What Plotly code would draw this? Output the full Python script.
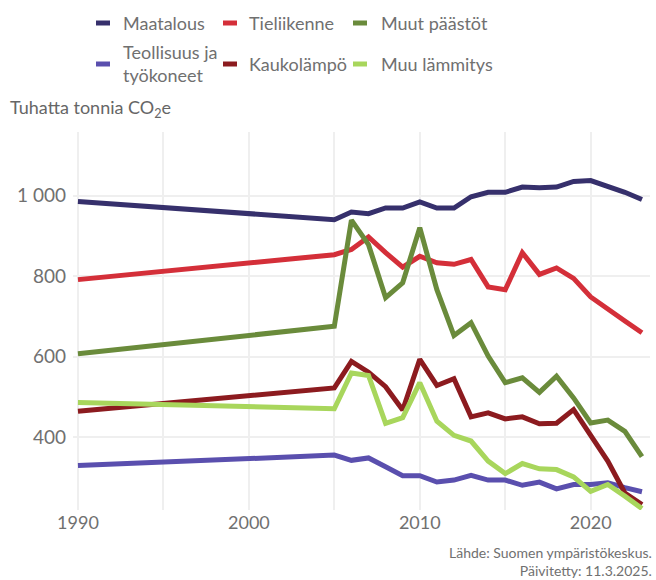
import plotly.graph_objects as go

# Päästöt sektoreittain, tuhatta tonnia CO2e
years = [1990, 2005] + list(range(2006, 2024))

maatalous = [985, 940, 959, 955, 969, 969, 984, 969, 969, 997, 1008, 1008, 1021, 1019, 1021, 1035, 1037, 1023, 1008, 990]
tieliikenne = [791, 853, 866, 897, 858, 822, 849, 833, 829, 841, 773, 766, 858, 804, 820, 794, 748, 717, 688, 659]
muut_paastot = [607, 675, 939, 878, 746, 783, 920, 766, 652, 684, 601, 535, 547, 511, 551, 497, 435, 442, 414, 351]
teollisuus = [329, 355, 342, 348, 326, 304, 304, 288, 293, 305, 293, 293, 280, 288, 271, 282, 282, 286, 274, 264]
kaukolampo = [464, 522, 588, 561, 525, 467, 593, 528, 545, 450, 460, 445, 450, 433, 434, 468, 404, 340, 261, 232]
muu_lammitys = [486, 470, 559, 553, 434, 448, 535, 439, 404, 390, 340, 309, 334, 321, 319, 301, 265, 282, 253, 222]

series_names = ["Maatalous", "Tieliikenne", "Muut päästöt",
                "Teollisuus ja<br>työkoneet", "Kaukolämpö", "Muu lämmitys"]
series_values = [maatalous, tieliikenne, muut_paastot, teollisuus, kaukolampo, muu_lammitys]
series_colors = ["#36306c", "#d42f39", "#6a8b3b", "#5a4fae", "#8c1b1f", "#a8d65c"]

y_tickvals = [400, 600, 800, 1000]
y_ticktext = ["400", "600", "800", "1 000"]

source_text = "Lähde: Suomen ympäristökeskus.<br>Päivitetty: 11.3.2025."

W, H = 656, 580
ML, MR, MT, MB = 73, 6, 132, 70
PW, PH = W - ML - MR, H - MT - MB

FONT = "Lato"
TEXT = "#707070"


def px(xp):
    return (xp - ML) / PW


def py(yp):
    return (H - MB - yp) / PH


fig = go.Figure()
for name, vals, col in zip(series_names, series_values, series_colors):
    fig.add_trace(go.Scatter(
        x=years, y=vals, mode="lines", name=name.replace("<br>", " "),
        line=dict(color=col, width=5), showlegend=False,
    ))

# Legend drawn as short swatches with labels, three per row
leg_cols = [(96, 121), (223, 247), (353, 379)]
leg_rows = [23, 64]
shapes = []
annotations = []
for i, (name, col) in enumerate(zip(series_names, series_colors)):
    sx, tx = leg_cols[i % 3]
    ry = leg_rows[i // 3]
    shapes.append(dict(type="line", xref="paper", yref="paper",
                       x0=px(sx), x1=px(sx + 14), y0=py(ry), y1=py(ry),
                       line=dict(color=col, width=5)))
    annotations.append(dict(xref="paper", yref="paper", x=px(tx), y=py(ry),
                            xanchor="left", yanchor="middle", showarrow=False,
                            align="left", text=name,
                            font=dict(family=FONT, size=18, color=TEXT)))

annotations.append(dict(xref="paper", yref="paper", x=px(8), y=py(108),
                        xanchor="left", yanchor="middle", showarrow=False,
                        text="Tuhatta tonnia CO<sub>2</sub>e",
                        font=dict(family=FONT, size=18, color="#666666")))
annotations.append(dict(xref="paper", yref="paper", x=px(653), y=py(580),
                        xanchor="right", yanchor="bottom", showarrow=False,
                        align="right", borderpad=0, text=source_text,
                        font=dict(family=FONT, size=14, color=TEXT)))

fig.update_layout(
    width=W, height=H,
    margin=dict(l=ML, r=MR, t=MT, b=MB, pad=0),
    paper_bgcolor="white", plot_bgcolor="white",
    font=dict(family=FONT, color=TEXT),
    shapes=shapes, annotations=annotations,
    showlegend=False,
)
fig.update_xaxes(
    range=[1989.71, 2023.47], tick0=1990, dtick=10,
    showgrid=True, gridcolor="#efefef", gridwidth=1.5,
    minor=dict(dtick=5, tick0=1990, showgrid=True, gridcolor="#efefef", gridwidth=1.5),
    zeroline=False, showline=False, ticks="",
    tickfont=dict(family=FONT, size=18, color=TEXT),
)
fig.update_yaxes(
    range=[218.6, 1157.8], tickvals=y_tickvals, ticktext=y_ticktext,
    showgrid=True, gridcolor="#efefef", gridwidth=1.5,
    zeroline=False, showline=False, ticks="", ticklabelstandoff=6,
    tickfont=dict(family=FONT, size=19, color=TEXT),
)

fig.write_html("out.html")
